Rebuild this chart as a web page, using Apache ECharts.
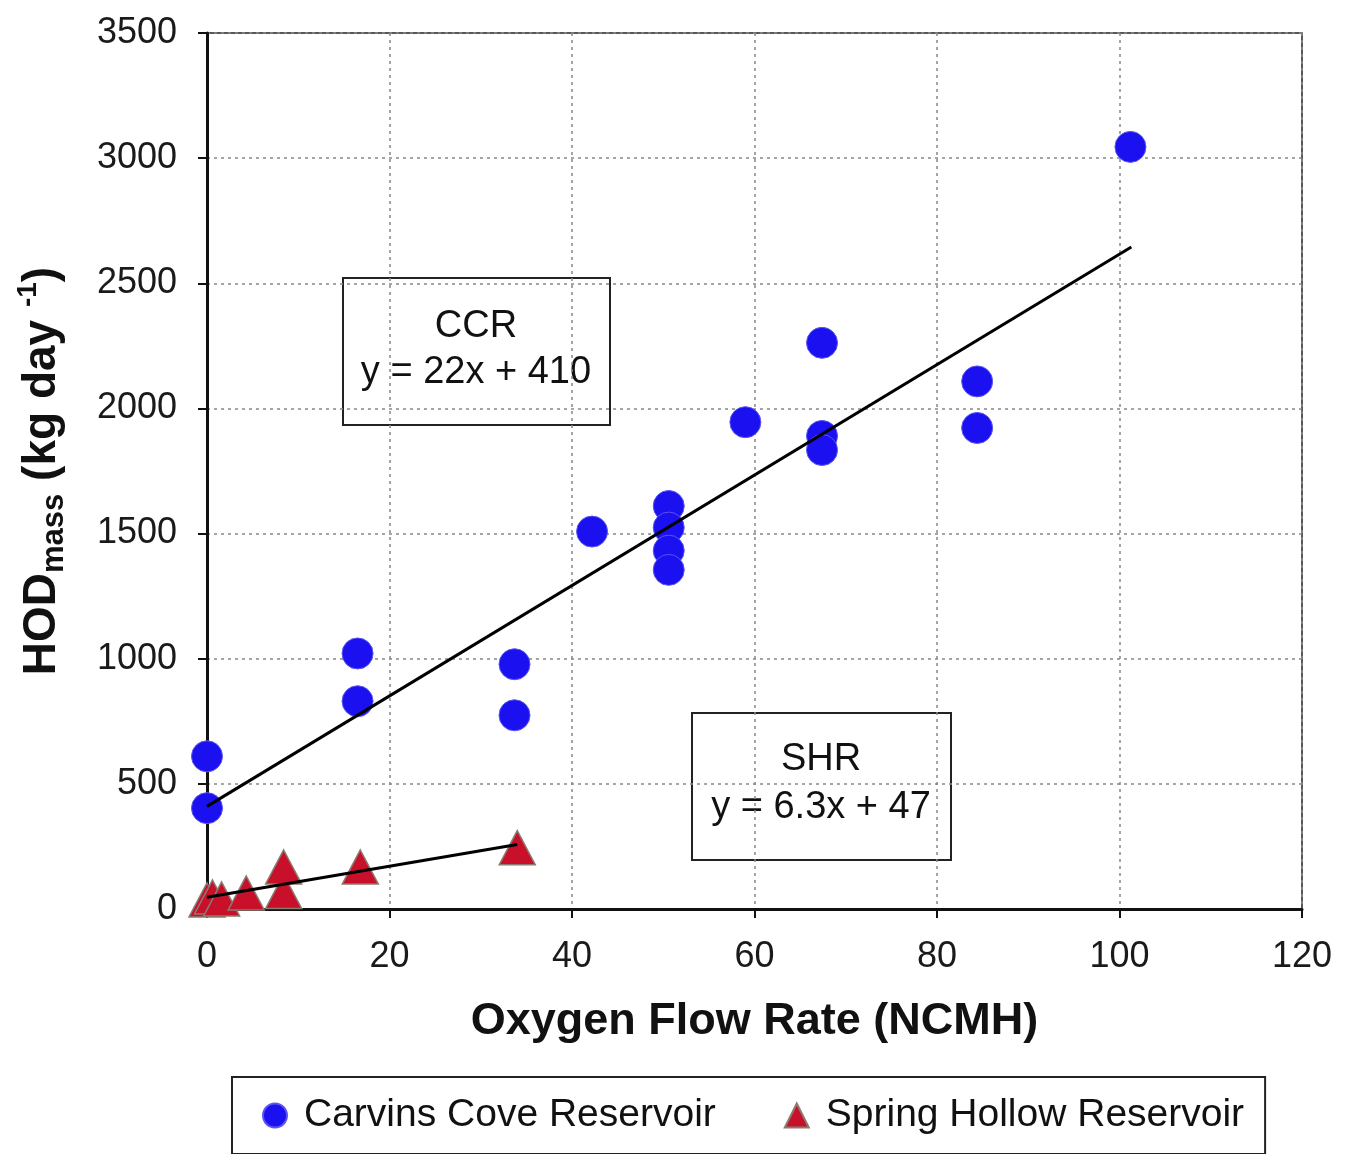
<!DOCTYPE html>
<html>
<head>
<meta charset="utf-8">
<script src="https://cdn.jsdelivr.net/npm/echarts@6/dist/echarts.min.js"></script>
<style>
  html, body { margin: 0; padding: 0; background: #fff; }
  #chart { width: 1345px; height: 1154px; }
</style>
</head>
<body>
<div id="chart"></div>
<script>
// Carvins Cove Reservoir (x = oxygen flow NCMH, y = HOD kg/day)
const ccrPoints = [
  [0, 610], [0, 403],
  [16.5, 1021], [16.5, 830],
  [33.7, 978], [33.7, 774],
  [42.2, 1508],
  [50.6, 1610], [50.6, 1524], [50.6, 1432], [50.6, 1355],
  [59, 1945],
  [67.4, 2262], [67.4, 1890], [67.4, 1834],
  [84.4, 2108], [84.4, 1922],
  [101.2, 3045]
];
// Spring Hollow Reservoir
const shrPoints = [
  [0, 36], [0.6, 48], [1.6, 40], [4.3, 64],
  [8.4, 70], [8.4, 168], [16.8, 168], [34, 245]
];
// fitted trend lines, endpoints
const ccrFit = [[0, 410], [101.3, 2645]];
const shrFit = [[0, 47], [34, 258]];

const xTicks = { min: 0, max: 120, interval: 20 };
const yTicks = { min: 0, max: 3500, interval: 500 };

const chart = echarts.init(document.getElementById("chart"));
const font = "Liberation Sans, Arial, sans-serif";

const option = {
  backgroundColor: "#fff",
  animation: false,
  textStyle: { fontFamily: font },
  grid: {
    left: 207, right: 43, top: 33, bottom: 245,
    outerBoundsMode: "none",
    containLabel: false,
    show: true, borderColor: "#222", borderWidth: 1.5
  },
  xAxis: {
    type: "value",
    min: xTicks.min, max: xTicks.max, interval: xTicks.interval,
    name: "Oxygen Flow Rate (NCMH)",
    nameLocation: "middle",
    nameGap: 90,
    nameTextStyle: { fontSize: 45, fontWeight: "bold", color: "#111", fontFamily: font },
    axisLine: { lineStyle: { color: "#111", width: 3 } },
    axisTick: { show: true, inside: false, length: 9, lineStyle: { color: "#111", width: 2 } },
    axisLabel: { fontSize: 36, color: "#1a1a1a", margin: 30, fontFamily: font },
    splitLine: { show: true, lineStyle: { color: "#888", type: [3, 4], width: 1.5 } }
  },
  yAxis: {
    type: "value",
    min: yTicks.min, max: yTicks.max, interval: yTicks.interval,
    name: "{a|HOD}{b|mass}{a| (kg day }{c|-1}{a|)}",
    nameLocation: "middle",
    nameRotate: 90,
    nameGap: 137,
    nameTextStyle: {
      color: "#111",
      rich: {
        a: { fontSize: 46, fontWeight: "bold", fontFamily: font, color: "#111", lineHeight: 56, verticalAlign: "middle" },
        b: { fontSize: 31, fontWeight: "bold", fontFamily: font, color: "#111", lineHeight: 31, verticalAlign: "bottom" },
        c: { fontSize: 28, fontWeight: "bold", fontFamily: font, color: "#111", lineHeight: 28, verticalAlign: "top" }
      }
    },
    axisLine: { show: true, lineStyle: { color: "#111", width: 3 } },
    axisTick: { show: true, inside: false, length: 9, lineStyle: { color: "#111", width: 2 } },
    axisLabel: {
      fontSize: 36, color: "#1a1a1a", margin: 30, fontFamily: font,
      formatter: function (v) { return String(v); }
    },
    splitLine: { show: true, lineStyle: { color: "#888", type: [3, 4], width: 1.5 } }
  },
  legend: {
    left: 232, top: 1077,
    padding: [19, 21, 19, 30],
    itemGap: 68,
    itemWidth: 24, itemHeight: 24,
    borderColor: "#222", borderWidth: 2,
    data: [
      { name: "Carvins Cove Reservoir", icon: "circle" },
      { name: "Spring Hollow Reservoir", icon: "triangle" }
    ],
    textStyle: { fontSize: 39, color: "#111", fontFamily: font, padding: [0, 0, 0, 12] }
  },
  graphic: [
    {
      type: "group", left: 342, top: 277,
      children: [
        { type: "rect", shape: { x: 0, y: 0, width: 267, height: 147 },
          style: { fill: "#fff", stroke: "#222", lineWidth: 2 } },
        { type: "text", x: 133, y: 49,
          style: { text: "CCR", font: "38px " + font, fill: "#111", align: "center", verticalAlign: "middle" } },
        { type: "text", x: 133, y: 95,
          style: { text: "y = 22x + 410", font: "38px " + font, fill: "#111", align: "center", verticalAlign: "middle" } }
      ]
    },
    {
      type: "group", left: 691, top: 712,
      children: [
        { type: "rect", shape: { x: 0, y: 0, width: 259, height: 147 },
          style: { fill: "#fff", stroke: "#222", lineWidth: 2 } },
        { type: "text", x: 129, y: 47,
          style: { text: "SHR", font: "38px " + font, fill: "#111", align: "center", verticalAlign: "middle" } },
        { type: "text", x: 129, y: 95,
          style: { text: "y = 6.3x + 47", font: "38px " + font, fill: "#111", align: "center", verticalAlign: "middle" } }
      ]
    }
  ],
  series: [
    {
      name: "Carvins Cove Reservoir",
      type: "scatter",
      symbol: "circle",
      symbolSize: 31,
      data: ccrPoints,
      itemStyle: { color: "#1a10f0", borderColor: "#5a55f2", borderWidth: 1, opacity: 1 },
      z: 3
    },
    {
      name: "Spring Hollow Reservoir",
      type: "scatter",
      symbol: "triangle",
      symbolSize: [36, 34],
      data: shrPoints,
      itemStyle: { color: "#c8102a", borderColor: "#8a7a70", borderWidth: 1.5, opacity: 1 },
      z: 3
    },
    {
      name: "CCR fit",
      type: "line",
      data: ccrFit,
      showSymbol: false,
      symbol: "none",
      lineStyle: { color: "#000", width: 3 },
      z: 4
    },
    {
      name: "SHR fit",
      type: "line",
      data: shrFit,
      showSymbol: false,
      symbol: "none",
      lineStyle: { color: "#000", width: 3 },
      z: 4
    }
  ]
};

chart.setOption(option);
</script>
</body>
</html>
